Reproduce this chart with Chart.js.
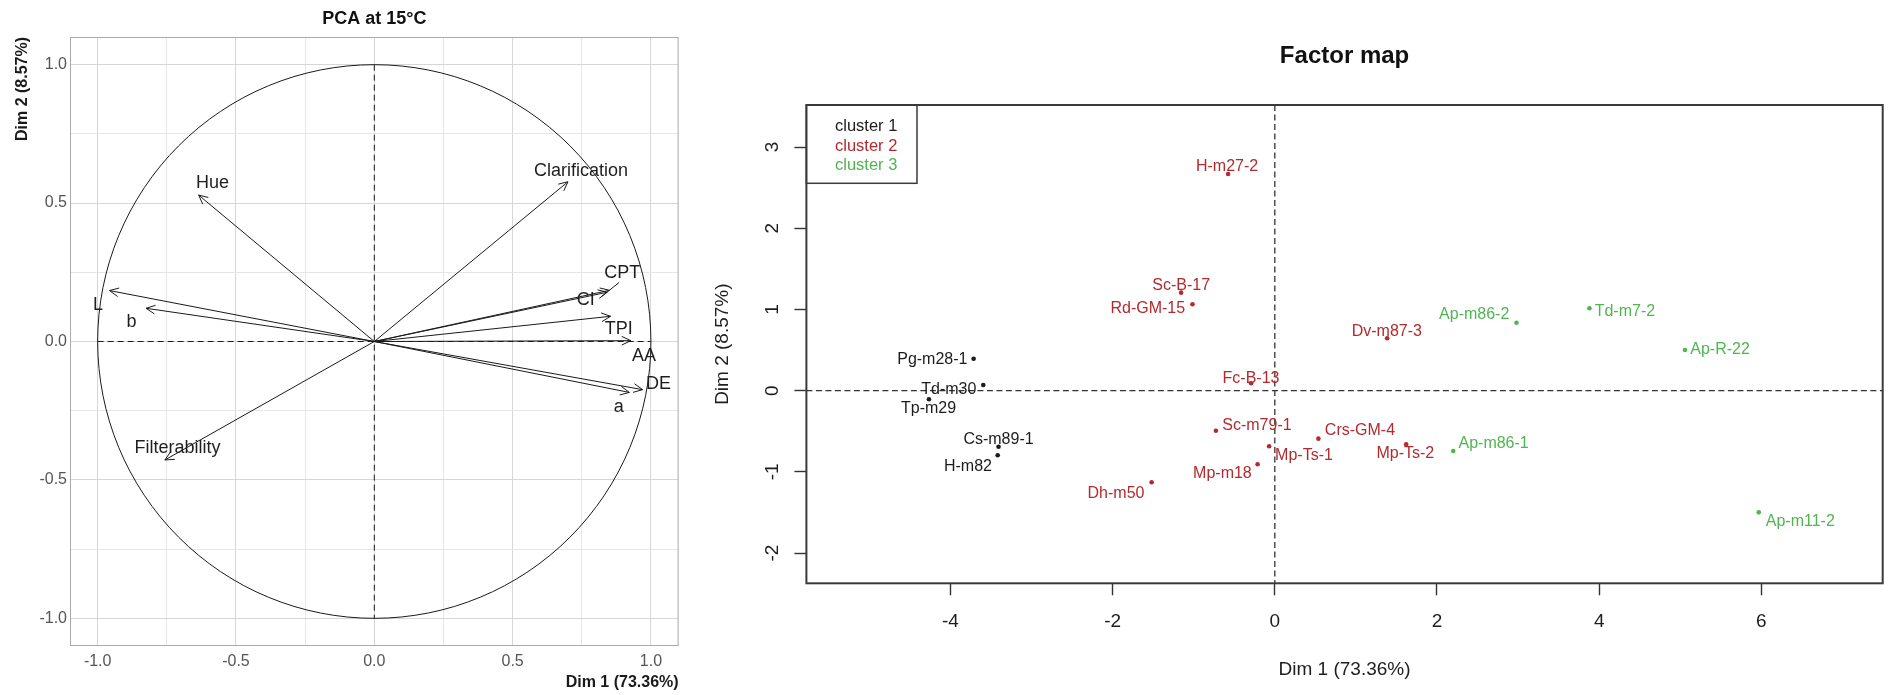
<!DOCTYPE html>
<html>
<head>
<meta charset="utf-8">
<title>PCA at 15°C / Factor map</title>
<script src="https://cdn.jsdelivr.net/npm/chart.js@4.4.1/dist/chart.umd.min.js"></script>
<style>
  html, body { margin: 0; padding: 0; background: #fff; }
  body { width: 1889px; height: 695px; position: relative; overflow: hidden; }
  #pcaChart { position: absolute; left: 0; top: 0; }
  #factorChart { position: absolute; left: 700px; top: 0; }
</style>
</head>
<body>
<canvas id="pcaChart" width="700" height="695"></canvas>
<canvas id="factorChart" width="1189" height="695"></canvas>
<script>
'use strict';

// ---- data: variables on the correlation circle ----
let varNames = ['Hue', 'Clarification', 'L', 'b', 'CPT', 'CI', 'TPI', 'AA', 'DE', 'a', 'Filterability'];
let varDim1 = [-0.635, 0.700, -0.957, -0.825, 0.850, 0.842, 0.854, 0.927, 0.970, 0.922, -0.757];
let varDim2 = [0.529, 0.577, 0.184, 0.120, 0.185, 0.178, 0.091, 0.003, -0.174, -0.184, -0.428];
// where the name of each variable was placed (repelled labels)
let varLabelDim1 = [-0.585, 0.747, -0.999, -0.878, 0.896, 0.764, 0.884, 0.975, 1.027, 0.884, -0.711];
let varLabelDim2 = [0.571, 0.617, 0.132, 0.070, 0.246, 0.150, 0.045, -0.051, -0.154, -0.238, -0.386];
let varLeader = [false, false, false, false, true, false, false, false, false, false, false];
let circleTicks = [-1, -0.75, -0.5, -0.25, 0, 0.25, 0.5, 0.75, 1];

// ---- data: individuals on the factor map ----
let clusterNames = ['cluster 1', 'cluster 2', 'cluster 3'];

let cluster1Names = ['Pg-m28-1', 'Td-m30', 'Tp-m29', 'Cs-m89-1', 'H-m82'];
let cluster1Dim1 = [-3.714, -3.595, -4.265, -3.407, -3.417];
let cluster1Dim2 = [0.394, 0.070, -0.106, -0.690, -0.796];
let cluster1LabelDim1 = [-4.223, -4.020, -4.270, -3.407, -3.784];
let cluster1LabelDim2 = [0.387, 0.017, -0.225, -0.607, -0.936];

let cluster2Names = ['H-m27-2', 'Sc-B-17', 'Rd-GM-15', 'Dv-m87-3', 'Fc-B-13', 'Sc-m79-1',
  'Mp-Ts-1', 'Crs-GM-4', 'Mp-Ts-2', 'Mp-m18', 'Dh-m50'];
let cluster2Dim1 = [-0.576, -1.155, -1.015, 1.386, -0.292, -0.726, -0.070, 0.538, 1.620, -0.212, -1.519];
let cluster2Dim2 = [2.669, 1.207, 1.064, 0.645, 0.091, -0.493, -0.685, -0.591, -0.660, -0.906, -1.128];
let cluster2LabelDim1 = [-0.589, -1.155, -1.566, 1.381, -0.293, -0.220, 0.360, 1.050, 1.610, -0.646, -1.958];
let cluster2LabelDim2 = [2.759, 1.290, 1.015, 0.727, 0.153, -0.435, -0.804, -0.496, -0.771, -1.017, -1.272];

let cluster3Names = ['Ap-m86-2', 'Td-m7-2', 'Ap-R-22', 'Ap-m86-1', 'Ap-m11-2'];
let cluster3Dim1 = [2.980, 3.880, 5.058, 2.200, 5.968];
let cluster3Dim2 = [0.837, 1.015, 0.501, -0.743, -1.498];
let cluster3LabelDim1 = [2.459, 4.317, 5.490, 2.698, 6.480];
let cluster3LabelDim2 = [0.932, 0.973, 0.500, -0.648, -1.617];

let factorXTicks = [-4, -2, 0, 2, 4, 6];
let factorYTicks = [-2, -1, 0, 1, 2, 3];

// ---- styles ----
const FONT = '"Liberation Sans", Arial, Helvetica, sans-serif';
Chart.defaults.font.family = FONT;
let clusterColors = ['#1c1c1c', '#b22a2e', '#4fb54f'];

function isMajor(v) {
  return Math.abs(v * 2 - Math.round(v * 2)) < 1e-9;
}

function drawArrowHead(ctx, x0, y0, x1, y1, len) {
  let ang = Math.atan2(y1 - y0, x1 - x0);
  ctx.beginPath();
  ctx.moveTo(x1 - len * Math.cos(ang - Math.PI / 7), y1 - len * Math.sin(ang - Math.PI / 7));
  ctx.lineTo(x1, y1);
  ctx.lineTo(x1 - len * Math.cos(ang + Math.PI / 7), y1 - len * Math.sin(ang + Math.PI / 7));
  ctx.stroke();
}

// ================= left: correlation circle =================
let arrowSets = [];
for (let i = 0; i < varNames.length; i++) {
  arrowSets.push({
    label: varNames[i],
    data: [{ x: 0, y: 0 }, { x: varDim1[i], y: varDim2[i] }],
    showLine: true,
    borderColor: '#1a1a1a',
    borderWidth: 1,
    pointRadius: 0
  });
}

let circleDecor = {
  id: 'circleDecor',
  beforeDatasetsDraw(chart) {
    let ctx = chart.ctx;
    let a = chart.chartArea;
    let sx = chart.scales.x;
    let sy = chart.scales.y;
    let cx = sx.getPixelForValue(0);
    let cy = sy.getPixelForValue(0);
    ctx.save();
    // panel border
    ctx.strokeStyle = '#ababab';
    ctx.lineWidth = 1;
    ctx.strokeRect(a.left + 0.5, a.top + 0.5, a.right - a.left - 1, a.bottom - a.top - 1);
    // unit circle
    ctx.strokeStyle = '#1a1a1a';
    ctx.beginPath();
    ctx.ellipse(cx, cy, sx.getPixelForValue(1) - cx, cy - sy.getPixelForValue(1), 0, 0, Math.PI * 2);
    ctx.stroke();
    // dashed axes inside the circle
    ctx.setLineDash([6, 4]);
    ctx.beginPath();
    ctx.moveTo(sx.getPixelForValue(-1), cy);
    ctx.lineTo(sx.getPixelForValue(1), cy);
    ctx.moveTo(cx, sy.getPixelForValue(1));
    ctx.lineTo(cx, sy.getPixelForValue(-1));
    ctx.stroke();
    ctx.restore();
  },
  afterDatasetsDraw(chart) {
    let ctx = chart.ctx;
    let sx = chart.scales.x;
    let sy = chart.scales.y;
    let cx = sx.getPixelForValue(0);
    let cy = sy.getPixelForValue(0);
    ctx.save();
    ctx.strokeStyle = '#1a1a1a';
    ctx.lineWidth = 1;
    ctx.fillStyle = '#1e1e1e';
    ctx.font = '18px ' + FONT;
    ctx.textAlign = 'center';
    ctx.textBaseline = 'middle';
    for (let i = 0; i < varNames.length; i++) {
      let tx = sx.getPixelForValue(varDim1[i]);
      let ty = sy.getPixelForValue(varDim2[i]);
      drawArrowHead(ctx, cx, cy, tx, ty, 10);
      let lx = sx.getPixelForValue(varLabelDim1[i]);
      let ly = sy.getPixelForValue(varLabelDim2[i]);
      if (varLeader[i]) {
        ctx.beginPath();
        ctx.moveTo(tx, ty);
        ctx.lineTo(lx - 3, ly + 9);
        ctx.stroke();
      }
      ctx.fillText(varNames[i], lx, ly);
    }
    ctx.restore();
  }
};

new Chart(document.getElementById('pcaChart'), {
  type: 'scatter',
  data: { datasets: arrowSets },
  options: {
    responsive: false,
    animation: false,
    layout: { padding: { left: 0, right: 21.4, top: 0, bottom: 0 }, autoPadding: false },
    plugins: { legend: { display: false }, tooltip: { enabled: false } },
    scales: {
      x: {
        type: 'linear', min: -1.1, max: 1.1,
        afterBuildTicks: (s) => { s.ticks = circleTicks.map(v => ({ value: v })); },
        afterFit: (s) => { s.height = 49; },
        grid: { color: (c) => (c.tick && isMajor(c.tick.value)) ? '#d6d6d6' : '#e6e6e6', drawTicks: false },
        border: { display: false },
        ticks: { autoSkip: false, maxRotation: 0, padding: 6, color: '#555', font: { size: 16 },
          callback: (v) => isMajor(v) ? v.toFixed(1) : '' },
        title: { display: true, text: 'Dim 1 (73.36%)', align: 'end', color: '#1a1a1a',
          font: { size: 16, weight: 'bold' }, padding: { top: 0, bottom: 2.4 } }
      },
      y: {
        type: 'linear', min: -1.1, max: 1.1,
        afterBuildTicks: (s) => { s.ticks = circleTicks.map(v => ({ value: v })); },
        afterFit: (s) => { s.width = 70; },
        grid: { color: (c) => (c.tick && isMajor(c.tick.value)) ? '#d6d6d6' : '#e6e6e6', drawTicks: false },
        border: { display: false },
        ticks: { autoSkip: false, padding: 3, color: '#555', font: { size: 16 },
          callback: (v) => isMajor(v) ? v.toFixed(1) : '' },
        title: { display: true, text: 'Dim 2 (8.57%)', align: 'end', color: '#1a1a1a',
          font: { size: 16, weight: 'bold' }, padding: { top: 13.4, bottom: 0 } }
      },
      x2: {
        type: 'linear', position: 'top', display: true,
        afterFit: (s) => { s.height = 37; },
        grid: { display: false }, border: { display: false }, ticks: { display: false },
        title: { display: true, text: 'PCA at 15°C', color: '#111',
          font: { size: 18, weight: 'bold' }, padding: { top: 8.2, bottom: 0 } }
      }
    }
  },
  plugins: [circleDecor]
});

// ================= right: factor map =================
let clusterDim1 = [cluster1Dim1, cluster2Dim1, cluster3Dim1];
let clusterDim2 = [cluster1Dim2, cluster2Dim2, cluster3Dim2];
let clusterLabels = [cluster1Names, cluster2Names, cluster3Names];
let clusterLabelDim1 = [cluster1LabelDim1, cluster2LabelDim1, cluster3LabelDim1];
let clusterLabelDim2 = [cluster1LabelDim2, cluster2LabelDim2, cluster3LabelDim2];

let pointSets = [];
for (let k = 0; k < clusterNames.length; k++) {
  let pts = [];
  for (let i = 0; i < clusterDim1[k].length; i++) {
    pts.push({ x: clusterDim1[k][i], y: clusterDim2[k][i] });
  }
  pointSets.push({
    label: clusterNames[k],
    data: pts,
    backgroundColor: clusterColors[k],
    borderWidth: 0,
    pointRadius: 2.3
  });
}

let mapDecor = {
  id: 'mapDecor',
  beforeDatasetsDraw(chart) {
    let ctx = chart.ctx;
    let a = chart.chartArea;
    let cx = chart.scales.x.getPixelForValue(0);
    let cy = chart.scales.y.getPixelForValue(0);
    ctx.save();
    ctx.strokeStyle = '#333';
    ctx.lineWidth = 1.3;
    ctx.setLineDash([6, 3.5]);
    ctx.beginPath();
    ctx.moveTo(a.left, cy);
    ctx.lineTo(a.right, cy);
    ctx.moveTo(cx, a.top);
    ctx.lineTo(cx, a.bottom);
    ctx.stroke();
    ctx.restore();
  },
  afterDatasetsDraw(chart) {
    let ctx = chart.ctx;
    let a = chart.chartArea;
    let sx = chart.scales.x;
    let sy = chart.scales.y;
    ctx.save();
    // point names
    ctx.font = '16px ' + FONT;
    ctx.textAlign = 'center';
    ctx.textBaseline = 'middle';
    for (let k = 0; k < clusterNames.length; k++) {
      ctx.fillStyle = clusterColors[k];
      for (let i = 0; i < clusterLabels[k].length; i++) {
        ctx.fillText(clusterLabels[k][i], sx.getPixelForValue(clusterLabelDim1[k][i]),
          sy.getPixelForValue(clusterLabelDim2[k][i]));
      }
    }
    // plot box
    ctx.strokeStyle = '#3a3a3a';
    ctx.lineWidth = 2;
    ctx.strokeRect(a.left, a.top, a.right - a.left, a.bottom - a.top);
    // legend box, top left
    ctx.lineWidth = 1.5;
    ctx.strokeRect(a.left, a.top, 110.6, 78.3);
    ctx.font = '16.5px ' + FONT;
    ctx.textAlign = 'left';
    for (let k = 0; k < clusterNames.length; k++) {
      ctx.fillStyle = clusterColors[k];
      ctx.fillText(clusterNames[k], a.left + 28.6, a.top + 21.7 + k * 19.5);
    }
    ctx.restore();
  }
};

new Chart(document.getElementById('factorChart'), {
  type: 'scatter',
  data: { datasets: pointSets },
  options: {
    responsive: false,
    animation: false,
    layout: { padding: { left: 0, right: 6.3, top: 0, bottom: 0 }, autoPadding: false },
    plugins: { legend: { display: false }, tooltip: { enabled: false } },
    scales: {
      x: {
        type: 'linear', min: -5.776, max: 7.496,
        afterBuildTicks: (s) => { s.ticks = factorXTicks.map(v => ({ value: v })); },
        afterFit: (s) => { s.height = 111.7; },
        grid: { drawOnChartArea: false, drawTicks: true, tickLength: 12, tickColor: '#333', tickWidth: 1.4 },
        border: { display: false },
        ticks: { autoSkip: false, maxRotation: 0, padding: 15, color: '#1e1e1e', font: { size: 19 } },
        title: { display: true, text: 'Dim 1 (73.36%)', color: '#1e1e1e',
          font: { size: 19 }, padding: { top: 0, bottom: 13.6 } }
      },
      y: {
        type: 'linear', min: -2.372, max: 3.518,
        afterBuildTicks: (s) => { s.ticks = factorYTicks.map(v => ({ value: v })); },
        afterFit: (s) => { s.width = 106.4; },
        grid: { drawOnChartArea: false, drawTicks: true, tickLength: 12, tickColor: '#333', tickWidth: 1.4 },
        border: { display: false },
        ticks: { autoSkip: false, minRotation: 90, maxRotation: 90, crossAlign: 'center',
          padding: 13.2, color: '#1e1e1e', font: { size: 19 } },
        title: { display: true, text: 'Dim 2 (8.57%)', color: '#1e1e1e',
          font: { size: 19 }, padding: { top: 11.6, bottom: 0 } }
      },
      x2: {
        type: 'linear', position: 'top', display: true,
        afterFit: (s) => { s.height = 105; },
        grid: { display: false }, border: { display: false }, ticks: { display: false },
        title: { display: true, text: 'Factor map', color: '#111',
          font: { size: 24, weight: 'bold' }, padding: { top: 42.3, bottom: 0 } }
      }
    }
  },
  plugins: [mapDecor]
});
</script>
</body>
</html>
